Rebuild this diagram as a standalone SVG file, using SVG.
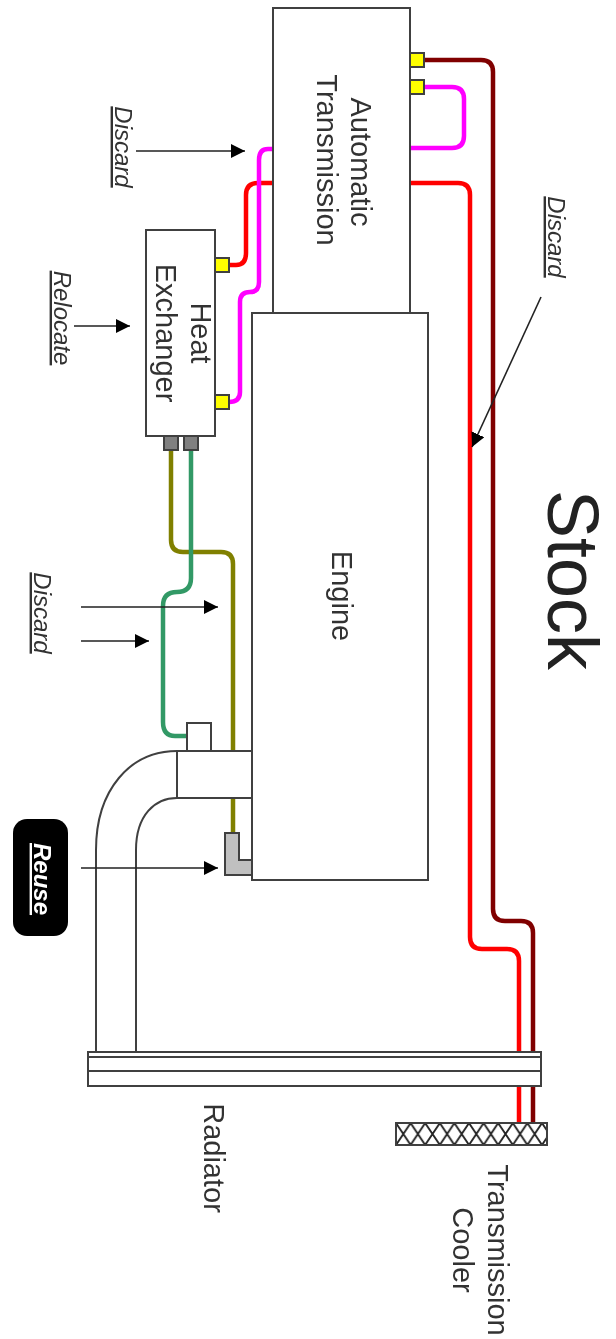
<svg xmlns="http://www.w3.org/2000/svg" width="616" height="1339" viewBox="0 0 616 1339">
<style>
.n{fill:#fff;stroke:#404040;stroke-width:2}
.o{fill:none;stroke:#404040;stroke-width:2}
.y{fill:#ff0;stroke:#404040;stroke-width:2}
.g{fill:#808080;stroke:#404040;stroke-width:2}
.p{fill:none;stroke-width:4.5;stroke-linejoin:round}
.a{stroke:#222;stroke-width:1.6;fill:none;marker-end:url(#h)}
.t{font-family:"Liberation Sans",Arial,sans-serif;font-size:29px;fill:#333;text-anchor:middle}
.d{font-family:"Liberation Sans",Arial,sans-serif;font-size:24px;font-style:italic;text-decoration:underline;fill:#333;text-anchor:middle}
</style>
<defs>
<filter id="soft" x="0" y="0" width="100%" height="100%"><feGaussianBlur stdDeviation="0.5"/></filter>
<marker id="h" markerUnits="userSpaceOnUse" markerWidth="15" markerHeight="15" refX="14" refY="7" orient="auto"><path d="M0 0L14 7L0 14Z" fill="#000"/></marker>
<pattern id="x" patternUnits="userSpaceOnUse" x="396" y="1123" width="14.6" height="22"><path d="M0 0L14.6 22M14.6 0L0 22" stroke="#222" stroke-width="1.8" fill="none"/></pattern>
</defs>
<g filter="url(#soft)">
<rect width="616" height="1339" fill="#fff"/>
<g id="connectors">
<path class="p" stroke="#800000" d="M424 60H481Q493 60 493 72V909Q493 921 505 921H521Q533 921 533 933V1123"/>
<path class="p" stroke="#f00" d="M410 183H458Q470 183 470 195V937Q470 949 482 949H507Q519 949 519 961V1123"/>
<path class="p" stroke="#f0f" d="M424 87H452Q464 87 464 99V136Q464 148 452 148H410"/>
<path class="p" stroke="#f00" d="M273 183H258Q246 183 246 195V253Q246 265 236 265H229"/>
<path class="p" stroke="#f0f" d="M273 149H268Q259 149 259 160V282Q259 292 250 292Q240 292 240 302V392Q240 402 229 402"/>
<path class="p" stroke="#808000" d="M171 451V540Q171 552 183 552H221Q233 552 233 564V752M233 798V834"/>
<path class="p" stroke="#339966" d="M191 451V578Q191 592 177 592Q163 592 163 606V722Q163 736 175 736H187"/>
</g>
<g id="transmission"><rect class="n" x="273" y="8" width="137" height="305"/>
<text class="t" transform="translate(351 162) rotate(90)">Automatic</text>
<text class="t" transform="translate(317 160) rotate(90)">Transmission</text></g>
<g id="port-t1"><rect class="y" x="410" y="53" width="14" height="14"/></g>
<g id="port-t2"><rect class="y" x="410" y="80" width="14" height="14"/></g>
<g id="engine"><rect class="n" x="252" y="313" width="176" height="567"/>
<text class="t" transform="translate(332 596) rotate(90)">Engine</text></g>
<g id="heat-exchanger"><rect class="n" x="146" y="230" width="69" height="206"/>
<text class="t" transform="translate(191 333) rotate(90)">Heat</text>
<text class="t" transform="translate(156 333) rotate(90)">Exchanger</text></g>
<g id="port-h1"><rect class="y" x="215" y="258" width="14" height="14"/></g>
<g id="port-h2"><rect class="y" x="215" y="395" width="14" height="14"/></g>
<g id="port-h3"><rect class="g" x="164" y="436" width="14" height="14"/></g>
<g id="port-h4"><rect class="g" x="184" y="436" width="14" height="14"/></g>
<g id="fitting"><rect class="n" x="187" y="723" width="24" height="28"/></g>
<g id="hose"><rect class="n" x="177" y="751" width="75" height="47"/>
<path class="o" d="M177 751C130 751 96 790 96 850V1052M177 798C155 798 136 815 136 850V1052"/></g>
<g id="elbow"><path d="M225 833H239V860H252V875H225Z" fill="#c0c0c0" stroke="#404040" stroke-width="2"/></g>
<g id="radiator"><rect class="n" x="88" y="1052" width="453" height="34"/>
<path class="o" d="M88 1057H541M88 1071H541"/>
<text class="t" transform="translate(204 1158) rotate(90)">Radiator</text></g>
<g id="cooler"><rect x="396" y="1123" width="151" height="22" fill="#fff"/><rect x="396" y="1123" width="151" height="22" fill="url(#x)" stroke="#404040" stroke-width="2"/>
<text class="t" transform="translate(488 1250) rotate(90)">Transmission</text>
<text class="t" transform="translate(453 1250) rotate(90)">Cooler</text></g>
<g id="arrows">
<path class="a" d="M136 151H245"/>
<path class="a" d="M74 326H130"/>
<path class="a" d="M81 607H218"/>
<path class="a" d="M81 641H149"/>
<path class="a" d="M81 868H218"/>
<path class="a" d="M541 297L472 447"/>
</g>
<g id="reuse"><rect x="13" y="819" width="55" height="117" rx="14" fill="#000"/>
<text class="d" style="fill:#fff;font-weight:bold" transform="translate(34 879) rotate(90)">Reuse</text></g>
<g id="labels">
<text class="d" transform="translate(115 147) rotate(90)">Discard</text>
<text class="d" transform="translate(548 237) rotate(90)">Discard</text>
<text class="d" transform="translate(54 318) rotate(90)">Relocate</text>
<text class="d" transform="translate(34 613) rotate(90)">Discard</text>
<text class="t" style="font-size:72px;fill:#222" transform="translate(548 580) rotate(90)">Stock</text>
</g>
</g>
</svg>
